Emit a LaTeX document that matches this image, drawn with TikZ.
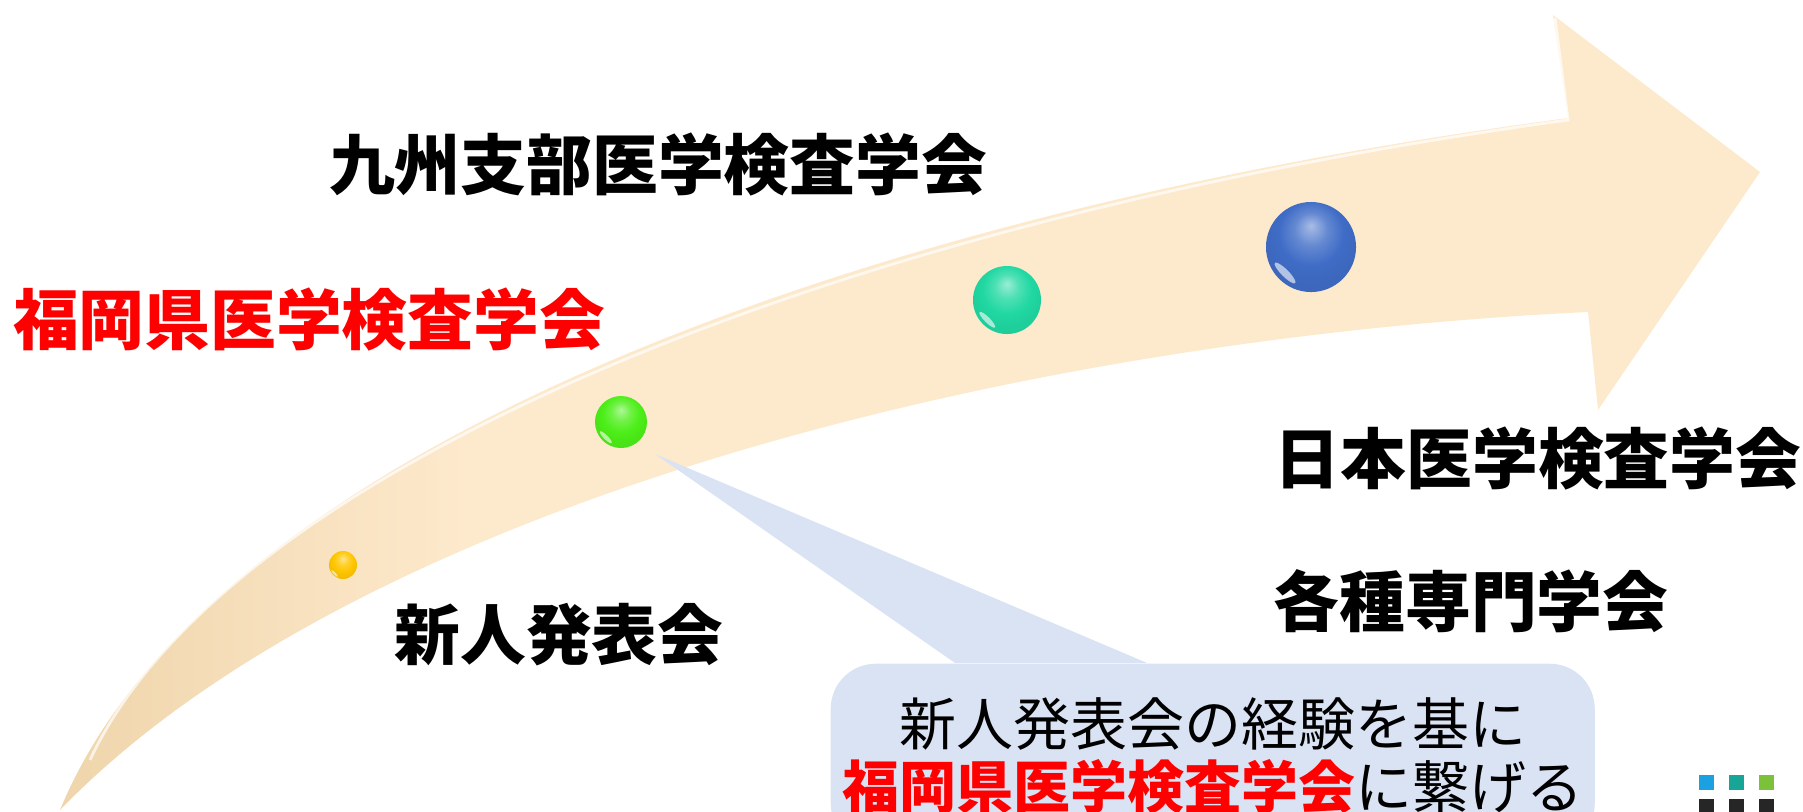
\documentclass[tikz,border=0pt]{standalone}
\usepackage{fontspec}
\newfontfamily\jpfont{Noto Sans CJK JP}
\definecolor{arrowtan}{HTML}{EFD5AB}
\definecolor{arrowpeach}{HTML}{FDE9CC}
\definecolor{memoblue}{HTML}{DAE3F3}
\definecolor{headred}{HTML}{FF0000}
\definecolor{ballyellow}{HTML}{FFC600}
\definecolor{ballgreen}{HTML}{4CEE18}
\definecolor{ballteal}{HTML}{20D8A2}
\definecolor{ballblue}{HTML}{3F6CC6}
\definecolor{iconblue}{HTML}{1BA1E2}
\definecolor{iconteal}{HTML}{16A596}
\definecolor{icongreen}{HTML}{7CC13A}
\colorlet{ballc}{ballblue}
\pgfdeclarehorizontalshading{arrowshade}{100bp}{color(0bp)=(arrowtan); color(25bp)=(arrowtan);
    color(37bp)=(arrowpeach); color(100bp)=(arrowpeach)}
\pgfdeclareradialshading[ballc]{glossy}{\pgfpoint{0bp}{12bp}}{color(0bp)=(ballc!45!white);
    color(9bp)=(ballc!80!white); color(18bp)=(ballc); color(25bp)=(ballc!96!black); color(50bp)=(ballc!90!black)}
\begin{document}
\begin{tikzpicture}[x=0.01cm,y=-0.01cm,
        head/.style={font=\jpfont\bfseries\fontsize{18.7}{22}\selectfont,inner sep=0},
        ball/.style={circle,inner sep=0,/utils/exec={\colorlet{ballc}{#1}},shading=glossy},
        memo/.style={fill=memoblue,rounded corners=0.45cm,minimum width=7.6cm,
            align=center,inner ysep=0.34cm,font=\jpfont\fontsize{16.2}{17.9}\selectfont}]
        \clip (0,0) rectangle (1803,811);
        %% curved arrow
        \shade[shading=arrowshade]
            (60,810) .. controls (200,470) and (800,220) .. (1568,118)
            -- (1553,15) -- (1760,172) -- (1598,410) -- (1588,312)
            .. controls (1000,340) and (350,510) .. (60,810) -- cycle;
        \draw[white,opacity=0.7,line width=0.8pt]
            (90,760) .. controls (220,480) and (800,225) .. (1568,120) -- (1555,18);
        %% labels
        \node[head] (kyushu) at (658,164) {九州支部医学検査学会};
        \node[head,text=headred] (fukuoka) at (309,319) {福岡県医学検査学会};
        \node[head] (nihon) at (1538,458) {日本医学検査学会};
        \node[head] (senmon) at (1471,601) {各種専門学会};
        \node[head] (shinjin) at (559,635) {新人発表会};
        %% callout
        \coordinate (tip) at (655,454);
        \node[memo,anchor=north west] (memo) at (830,663)
            {新人発表会の経験を基に\\{\bfseries\color{headred}福岡県医学検査学会}に繋げる};
        \fill[memoblue] (tip) -- ([xshift=1.25cm]memo.north west)
            -- ([xshift=3.17cm]memo.north west) -- cycle;
        %% balls along the arrow
        \foreach \name/\x/\y/\d/\c in {yellow/343/565/0.28/ballyellow,
                green/621/422/0.52/ballgreen,teal/1007/300/0.68/ballteal,
                blue/1311/247/0.9/ballblue} {
            \node[ball=\c,minimum size=\d cm] (\name) at (\x,\y) {};
            \fill[white,opacity=0.6] (\name.225) ++(45:0.1*\d cm)
                circle [x radius=0.16*\d cm, y radius=0.04*\d cm, rotate=135];
        }
        %% logo
        \foreach \i/\c in {0/iconblue,1/iconteal,2/icongreen} {
            \fill[\c] (1699+30*\i,775) rectangle ++(15,15);
            \fill[black!85] (1699+30*\i,799) rectangle ++(15,15);
        }
\end{tikzpicture}
\end{document}
